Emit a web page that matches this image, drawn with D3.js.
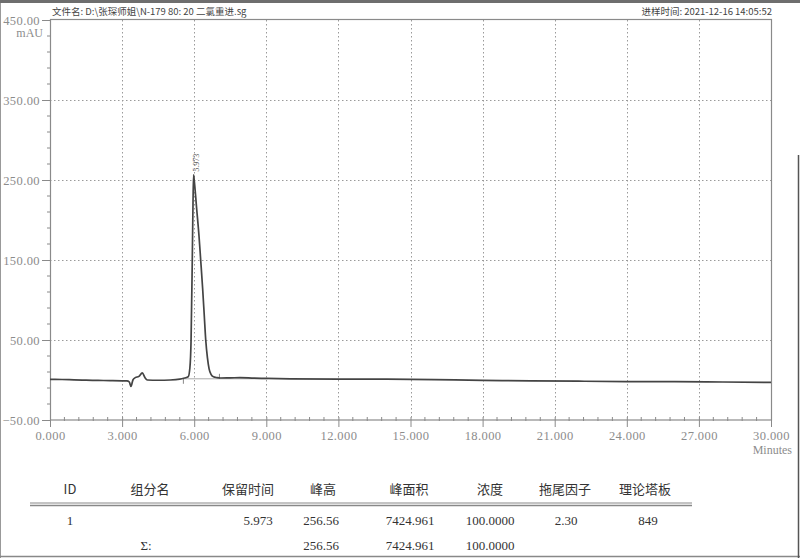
<!DOCTYPE html>
<html><head><meta charset="utf-8">
<script src="https://cdn.jsdelivr.net/npm/d3@7"></script>
<style>
html,body{margin:0;padding:0;background:#fff;}
svg{display:block;}
</style></head>
<body>
<svg id="c" width="800" height="558"></svg>
<script>
// ---- data ----
const fileLabel = "文件名: D:\\张琛师姐\\N-179 80: 20 二氯重进.sg";
const timeLabel = "进样时间: 2021-12-16 14:05:52";
const yUnit = "mAU";
const xUnit = "Minutes";
const xTicks = [0,3,6,9,12,15,18,21,24,27,30];
const yTicks = [-50,50,150,250,350,450];
const times = [0,0.5,1,1.5,2,2.5,3,3.2,3.3,3.37,3.45,3.55,3.7,3.84,3.95,4.05,4.5,5.0,5.4,5.6,5.75,5.82,5.87,5.92,5.95,5.973,6.0,6.1,6.2,6.27,6.35,6.42,6.48,6.55,6.62,6.7,6.8,6.95,7.1,7.5,7.9,8.5,9,10,12,14,16,18,20,22,24,26,28,30];
const signal = [0.8,0.6,0.2,-0.2,-0.5,-0.8,-1,-1,-2.5,-8,0,3,4.5,9,3,0,-0.3,0,1,2.5,4,15,50,150,220,256.56,250,215,180,150,115,80,50,28,14,7,4,3,2.5,2.6,3,2.3,2,1.5,1,1,0.5,-0.5,-1,-1.5,-2,-2,-2.5,-3];
const peakLabel = "5.973";
const peakRT = 5.973, peakH = 256.56;
const peakStart = 5.55, peakEnd = 7.05, baseLevel = 1.5;
const tableHeaders = ["ID","组分名","保留时间","峰高","峰面积","浓度","拖尾因子","理论塔板"];
const tableRow1 = ["1","","5.973","256.56","7424.961","100.0000","2.30","849"];
const tableSum = ["","Σ:","","256.56","7424.961","100.0000","",""];

// ---- layout ----
const svg = d3.select("#c");
const L=50, R=771, T=20, B=420;
const x = d3.scaleLinear().domain([0,30]).range([L,R]);
const y = d3.scaleLinear().domain([-50,450]).range([B,T]);
const gridCol="#9a9a9a", axisCol="#8a8a8a", labCol="#8c8c8c";
const numFont="'Liberation Serif', 'DejaVu Serif', serif";
const cjkFont="'Noto Sans CJK SC', sans-serif";

// page frame
svg.append("rect").attr("x",0).attr("y",0).attr("width",800).attr("height",3).attr("fill","#6e6e6e");
svg.append("line").attr("x1",0.5).attr("x2",0.5).attr("y1",3).attr("y2",558).attr("stroke","#999").attr("stroke-width",1);
svg.append("line").attr("x1",0).attr("x2",800).attr("y1",556.5).attr("y2",556.5).attr("stroke","#888").attr("stroke-width",1.5);
svg.append("line").attr("x1",798.5).attr("x2",798.5).attr("y1",155).attr("y2",558).attr("stroke","#555").attr("stroke-width",1.5);

// grid
const g = svg.append("g");
g.selectAll(".hg").data(yTicks.filter(v=>v>-50&&v<450)).enter().append("line")
  .attr("x1",L).attr("x2",R).attr("y1",d=>Math.round(y(d))+0.5).attr("y2",d=>Math.round(y(d))+0.5)
  .attr("stroke",gridCol).attr("stroke-width",1).attr("stroke-dasharray","1.5,2.5");
g.selectAll(".vg").data(xTicks.filter(v=>v>0&&v<30)).enter().append("line")
  .attr("x1",d=>Math.round(x(d))+0.5).attr("x2",d=>Math.round(x(d))+0.5).attr("y1",T).attr("y2",B)
  .attr("stroke",gridCol).attr("stroke-width",1).attr("stroke-dasharray","1.5,2.5");

// frame
g.append("rect").attr("x",L+0.5).attr("y",T-0.5).attr("width",R-L).attr("height",B-T+0.5)
  .attr("fill","none").attr("stroke",axisCol).attr("stroke-width",1.2);

// y axis
const yAxis = d3.axisLeft(y).tickValues(yTicks).tickSize(8).tickPadding(2).tickFormat(d3.format(".2f"));
const ya = svg.append("g").attr("transform",`translate(${L},0)`).call(yAxis);
ya.select(".domain").remove();
ya.selectAll("line").attr("stroke",axisCol);
ya.selectAll("text").attr("fill",labCol).attr("font-family",numFont).attr("font-size",12.5).attr("letter-spacing",0.4);
const yMinor = d3.range(-50,451,20).filter(v=>!yTicks.includes(v));
svg.append("g").selectAll("line").data(yMinor).enter().append("line")
  .attr("x1",L-3).attr("x2",L+1).attr("y1",d=>y(d)).attr("y2",d=>y(d)).attr("stroke",axisCol);
svg.append("text").attr("x",43).attr("y",37).attr("text-anchor","end").attr("fill",labCol)
  .attr("font-family",numFont).attr("font-size",12).text(yUnit);

// x axis
const xAxis = d3.axisBottom(x).tickValues(xTicks).tickSize(7).tickPadding(4).tickFormat(d3.format(".3f"));
const xa = svg.append("g").attr("transform",`translate(0,${B})`).call(xAxis);
xa.select(".domain").remove();
xa.selectAll("line").attr("stroke",axisCol).attr("y1",-3);
xa.selectAll("text").attr("fill",labCol).attr("font-family",numFont).attr("font-size",12.5).attr("letter-spacing",0.4);
const xMinor = d3.range(0,30.01,0.6).filter(v=>Math.abs(v/3-Math.round(v/3))>1e-6);
svg.append("g").selectAll("line").data(xMinor).enter().append("line")
  .attr("x1",d=>x(d)).attr("x2",d=>x(d)).attr("y1",B-3).attr("y2",B+1).attr("stroke",axisCol);
svg.append("text").attr("x",792).attr("y",454).attr("text-anchor","end").attr("fill",labCol)
  .attr("font-family",numFont).attr("font-size",12).text(xUnit);

// header texts
svg.append("text").attr("x",52).attr("y",15).attr("fill","#444").attr("font-family",cjkFont)
  .attr("font-size",9.5).text(fileLabel);
svg.append("text").attr("x",772).attr("y",15).attr("text-anchor","end").attr("fill","#444").attr("font-family",cjkFont)
  .attr("font-size",9.5).text(timeLabel);

// integration baseline
svg.append("line").attr("x1",x(peakStart)).attr("x2",x(peakEnd+2)).attr("y1",y(baseLevel)).attr("y2",y(baseLevel))
  .attr("stroke","#aaa").attr("stroke-width",1);
svg.append("line").attr("x1",x(peakStart)).attr("x2",x(peakStart)).attr("y1",y(baseLevel)).attr("y2",y(baseLevel)+5).attr("stroke","#888");
svg.append("line").attr("x1",x(peakEnd)).attr("x2",x(peakEnd)).attr("y1",y(baseLevel)-5).attr("y2",y(baseLevel)).attr("stroke","#888");

// chromatogram
const line = d3.line().x((d,i)=>x(times[i])).y(d=>y(d)).curve(d3.curveMonotoneX);
svg.append("path").attr("d",line(signal)).attr("fill","none").attr("stroke","#444").attr("stroke-width",1.7)
  .attr("stroke-linejoin","round");

// peak label
svg.append("text").attr("transform",`translate(${x(peakRT)+5},${y(peakH)-3}) rotate(-90)`)
  .attr("fill","#555").attr("font-family",numFont).attr("font-size",8).text(peakLabel);

// table
const colX = [70,150,248,323,409,490,565,645];
const valX = [70,146,258,321,410,490,566,648];
const tbl = svg.append("g").attr("font-family",cjkFont).attr("fill","#333").attr("text-anchor","middle");
tbl.selectAll(".h").data(tableHeaders).enter().append("text")
  .attr("x",(d,i)=>colX[i]).attr("y",494).attr("font-size",13).text(d=>d);
tbl.append("line").attr("x1",30).attr("x2",692).attr("y1",503).attr("y2",503).attr("stroke","#888").attr("stroke-width",1);
tbl.append("line").attr("x1",30).attr("x2",692).attr("y1",505.5).attr("y2",505.5).attr("stroke","#888").attr("stroke-width",1.5);
tbl.selectAll(".r1").data(tableRow1).enter().append("text")
  .attr("x",(d,i)=>valX[i]).attr("y",525).attr("font-size",13).attr("font-family",numFont).text(d=>d);
tbl.selectAll(".r2").data(tableSum).enter().append("text")
  .attr("x",(d,i)=>valX[i]).attr("y",550).attr("font-size",13).attr("font-family",numFont).text(d=>d);
</script>
</body></html>
